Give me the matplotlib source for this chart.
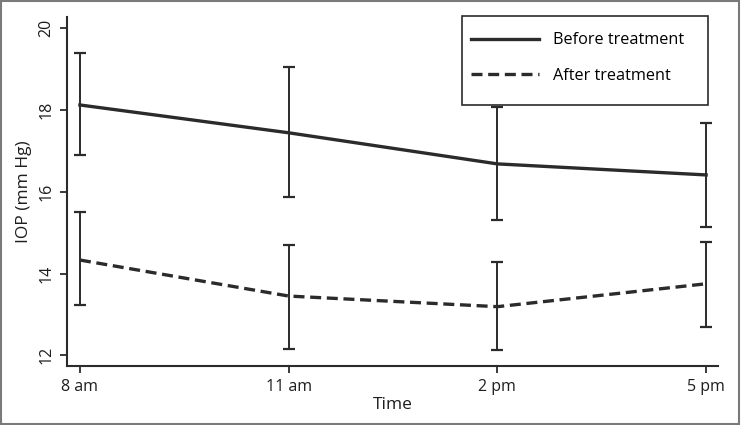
import matplotlib
matplotlib.use("Agg")
import matplotlib.pyplot as plt
from matplotlib.patches import Rectangle

times = ["8 am", "11 am", "2 pm", "5 pm"]
before_mean = [18.12, 17.44, 16.68, 16.41]
before_upper = [19.40, 19.04, 18.06, 17.67]
before_lower = [16.89, 15.86, 15.30, 15.13]
after_mean = [14.33, 13.45, 13.19, 13.75]
after_upper = [15.50, 14.70, 14.27, 14.78]
after_lower = [13.22, 12.16, 12.13, 12.69]

plt.rcParams['font.family'] = ['Open Sans', 'DejaVu Sans']
INK = "#2b2b2b"

fig = plt.figure(figsize=(7.41, 4.25), dpi=100)
ax = fig.add_axes([0.0904, 0.1388, 0.8786, 0.8212])

x = list(range(len(times)))


def draw(mean, lo, hi, ls, label):
    yerr = [[m - l for m, l in zip(mean, lo)], [h - m for m, h in zip(mean, hi)]]
    ax.errorbar(x, mean, yerr=yerr, fmt="none", ecolor=INK, elinewidth=1.4,
                capsize=4.5, capthick=1.6, zorder=2)
    line, = ax.plot(x, mean, color=INK, lw=2.4, linestyle=ls, label=label, zorder=3)
    return line


l1 = draw(before_mean, before_lower, before_upper, "-", "Before treatment")
l2 = draw(after_mean, after_lower, after_upper, (0, (3.3, 1.7)), "After treatment")

ax.set_xlim(-0.062, 3.057)
ax.set_ylim(11.74, 20.27)
ax.set_xticks(x)
ax.set_xticklabels(times)
ax.set_yticks([12, 14, 16, 18, 20])
ax.set_yticklabels(["12", "14", "16", "18", "20"], rotation=90, va="center")

for s in ["top", "right"]:
    ax.spines[s].set_visible(False)
for s in ["left", "bottom"]:
    ax.spines[s].set_linewidth(1.5)
    ax.spines[s].set_color(INK)
ax.tick_params(colors=INK, width=1.3, length=5, labelsize=11.5, pad=4)
for t in ax.get_xticklabels() + ax.get_yticklabels():
    t.set_color("#1e1e1e")

ax.set_xlabel("Time", fontsize=12.5, color="#1e1e1e", labelpad=2)
ax.set_ylabel("IOP (mm Hg)", fontsize=12.5, color="#1e1e1e", labelpad=5)

# legend box is taller than its entries, so the frame is drawn separately
box = Rectangle((0.607, 0.748), 0.378, 0.255, transform=ax.transAxes, clip_on=False,
                facecolor="white", edgecolor=INK, linewidth=1.2, zorder=4)
ax.add_patch(box)
leg = ax.legend(handles=[l1, l2], loc="upper left", bbox_to_anchor=(0.6206, 0.956),
                fontsize=11.7, frameon=False, handlelength=4.2,
                handletextpad=0.85, labelspacing=1.22, borderpad=0.0,
                borderaxespad=0.0)
leg.set_zorder(5)

fig.patches.append(Rectangle((0.002, 0.003), 0.995, 0.994, transform=fig.transFigure,
                             fill=False, edgecolor="#7a7a7a", linewidth=1.5))

fig.savefig("out.png", dpi=100)
